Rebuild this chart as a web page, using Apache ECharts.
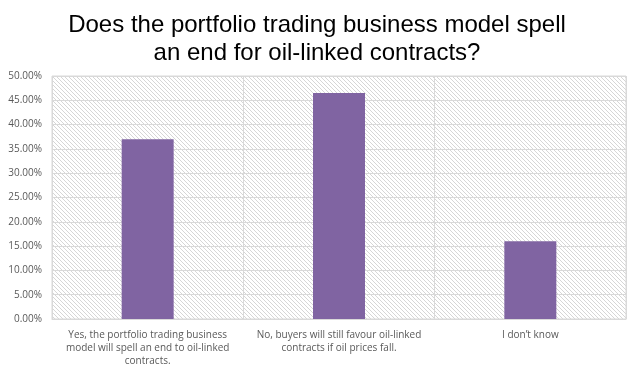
<!DOCTYPE html>
<html>
<head>
<meta charset="utf-8">
<script src="https://cdn.jsdelivr.net/npm/echarts@6/dist/echarts.min.js"></script>
<style>
  html, body { margin: 0; padding: 0; background: #fff; }
  #chart { width: 634px; height: 376px; }
</style>
</head>
<body>
<div id="chart"></div>
<script>
var categories = [
  'Yes, the portfolio trading business\nmodel will spell an end to oil-linked\ncontracts.',
  'No, buyers will still favour oil-linked\ncontracts if oil prices fall.',
  'I don\u2019t know'
];
var shares = [37.0, 46.5, 16.0];
var titleText = 'Does the portfolio trading business model spell\nan end for oil-linked contracts?';

// hatched plot background
var hatch = document.createElement('canvas');
hatch.width = 4;
hatch.height = 4;
var hctx = hatch.getContext('2d');
hctx.fillStyle = '#fff';
hctx.fillRect(0, 0, 4, 4);
hctx.fillStyle = '#d6d6d6';
for (var i = 0; i < 4; i++) {
  hctx.fillRect(i, i, 1, 1);
}

var chart = echarts.init(document.getElementById('chart'));
chart.setOption({
  animation: false,
  backgroundColor: '#fff',
  title: {
    text: titleText,
    left: 'center',
    top: 6,
    textStyle: {
      fontFamily: 'Liberation Sans',
      fontSize: 24,
      fontWeight: 'normal',
      color: '#000',
      lineHeight: 28
    }
  },
  grid: {
    left: 52,
    right: 8,
    top: 76,
    bottom: 57,
    show: true,
    backgroundColor: { image: hatch, repeat: 'repeat' },
    borderColor: '#d9d9d9',
    borderWidth: 1
  },
  xAxis: {
    type: 'category',
    data: categories,
    axisLine: { lineStyle: { color: '#d9d9d9' } },
    axisTick: { show: false },
    splitLine: { show: true, lineStyle: { color: '#d9d9d9' } },
    axisLabel: {
      interval: 0,
      margin: 10,
      fontFamily: 'Open Sans',
      fontSize: 10,
      lineHeight: 13,
      color: '#595959',
      align: 'center'
    }
  },
  yAxis: {
    type: 'value',
    min: 0,
    max: 50,
    interval: 5,
    axisLine: { show: false },
    axisTick: { show: false },
    splitLine: { lineStyle: { color: '#d9d9d9' } },
    axisLabel: {
      margin: 10,
      fontFamily: 'Open Sans',
      fontSize: 10,
      color: '#595959',
      formatter: function (v) { return v.toFixed(2) + '%'; }
    }
  },
  series: [{
    type: 'bar',
    data: shares,
    barWidth: 52,
    itemStyle: { color: '#8064a2' }
  }]
});
</script>
</body>
</html>
